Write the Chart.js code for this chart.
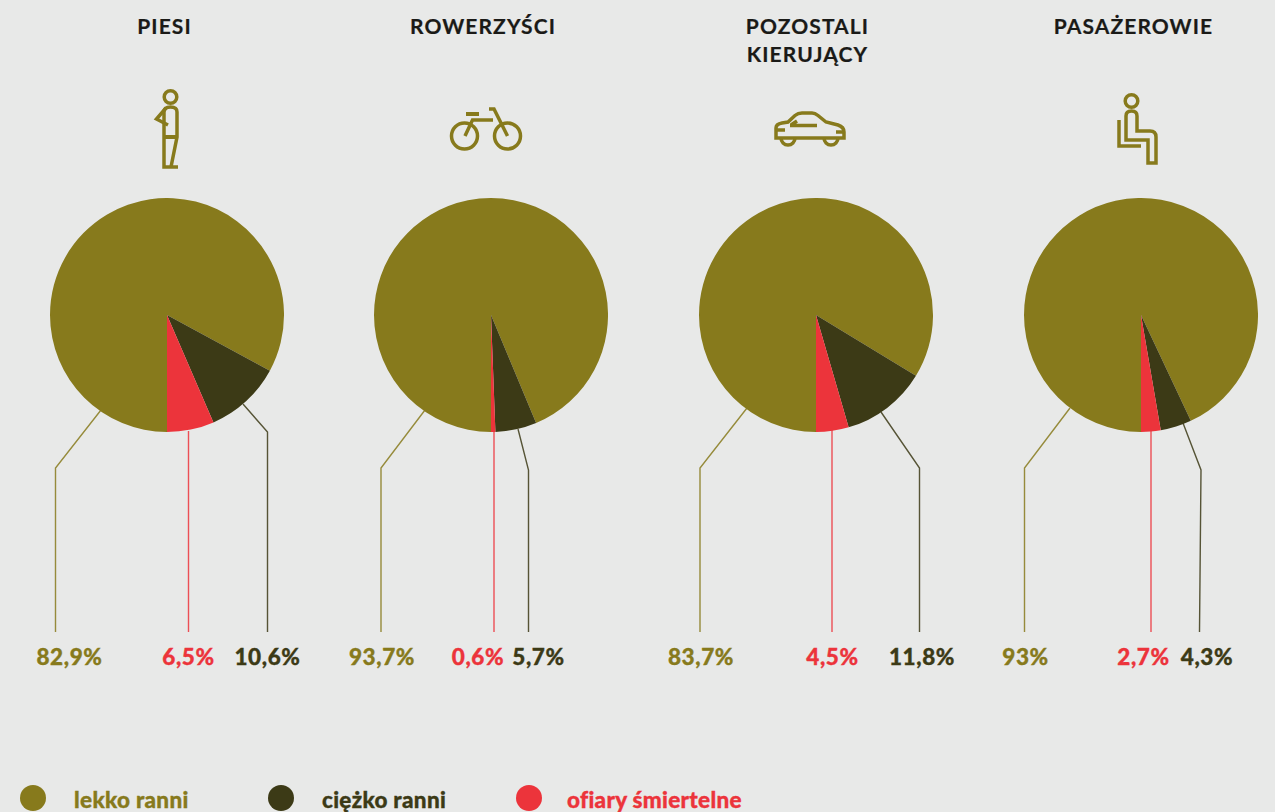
<!DOCTYPE html>
<html lang="pl"><head><meta charset="utf-8">
<script src="https://cdn.jsdelivr.net/npm/chart.js@4/dist/chart.umd.min.js"></script>
<style>
html,body{margin:0;padding:0;width:1275px;height:812px;overflow:hidden;background:#e8e9e8;font-family:Lato,"Noto Sans",sans-serif;}
.t{position:absolute;white-space:nowrap;transform:translateX(-50%);}
.title{font-weight:700;font-size:21px;letter-spacing:1.1px;line-height:28px;color:#1a1a17;text-align:center;top:12px;-webkit-text-stroke:.2px currentColor;}
.val{font-weight:900;font-size:22.5px;letter-spacing:.6px;line-height:26px;top:644px;-webkit-text-stroke:.35px currentColor;}
.leg{font-weight:900;font-size:22.5px;letter-spacing:.3px;line-height:26px;top:787px;transform:none;-webkit-text-stroke:.35px currentColor;}
.dot{position:absolute;width:26px;height:26px;border-radius:50%;top:785px;}
canvas{position:absolute;}
svg{position:absolute;left:0;top:0;}
</style></head><body>
<svg id="ov" width="1275" height="812" fill="none"></svg>
<script>
const categories=["lekko ranni","ciężko ranni","ofiary śmiertelne"];
const groups=["PIESI","ROWERZYŚCI","POZOSTALI\nKIERUJĄCY","PASAŻEROWIE"];
const lekkoRanni=[82.9,93.7,83.7,93];
const ciezkoRanni=[10.6,5.7,11.8,4.3];
const ofiary=[6.5,0.6,4.5,2.7];
const labelLekko=["82,9%","93,7%","83,7%","93%"];
const labelCiezko=["10,6%","5,7%","11,8%","4,3%"];
const labelOfiary=["6,5%","0,6%","4,5%","2,7%"];

const OLIVE="#877a1c",DARK="#3c3a16",RED="#ec343b";
const centersX=[167,491,816,1141],cy=315,R=117;
const titleX=[164.5,483,807.5,1133.5];
const lekkoX=[69.5,382,701,1025.5],ofiaryX=[188.5,478,832.5,1143.5],ciezkoX=[267.5,538.5,922,1207];
const leaders=[
 [[101,410,55.500,468,55.500,632],[188.500,431,188.500,632],[243,404,267.500,432,267.500,632]],
 [[425,410,381,468,381,632],[494,431,494,632],[518,429,528.500,470,528.500,632]],
 [[747,408,700,468,700,632],[832,430,832,632],[881,412,919.500,468,919.500,632]],
 [[1070,408,1024.500,468,1024.500,632],[1151,431,1151,632],[1183,423,1201,470,1199.500,632]]
];
const ov=document.getElementById("ov");
let svg="";
leaders.forEach(g=>{[OLIVE,RED,DARK].forEach((c,i)=>{
 svg+=`<polyline points="${g[i].join(" ")}" stroke="${c}" stroke-width="1.4" opacity=".85"/>`;});});
// icons
const ic=`stroke="${OLIVE}" stroke-width="3.5" fill="none"`;
svg+=`<g ${ic}>
<circle cx="170.500" cy="97" r="6.300"/>
<path d="M164 136V112Q164 107 170.500 107Q177 107 177 112V137L171 167H178M164 136V167H171"/>
<path d="M164 137H177" stroke-width="4"/>
<path d="M166 108L156.500 119L168 125"/>
</g>`;
svg+=`<g ${ic}>
<circle cx="464.500" cy="136" r="13"/><circle cx="507.500" cy="136" r="13"/>
<path d="M465 136L472.500 120H493M489 109H494L507.500 136"/>
<path d="M466 114H479" stroke-width="4"/>
</g>`;
svg+=`<g ${ic}>
<path d="M776 138V128Q776 124 782 123L788 122L795 115.500Q798 113 802 113H812Q815 113 818 115.500L826 122L838 125Q844 127 844 132V138Z"/>
<path d="M781 138A7 7 0 0 0 795 138M824 138A7 7 0 0 0 838 138"/>
<path d="M790 125.500H817M791 125L797 121M776 130H785M836 132H844"/>
</g>`;
svg+=`<g ${ic}>
<circle cx="1131.500" cy="101" r="6.300"/>
<path d="M1126 140V116Q1126 111 1131.500 111Q1137 111 1137 116V131H1150Q1156 131 1156 137V163H1148V140Z"/>
<path d="M1119 120V146H1141"/>
</g>`;
ov.innerHTML=svg;

function addText(cls,txt,x,color){
 const d=document.createElement("div");d.className=cls;d.textContent=txt;
 d.style.left=x+"px";if(color)d.style.color=color;
 document.body.appendChild(d);return d;
}
groups.forEach((g,i)=>{
 const d=addText("t title","",titleX[i]);
 d.innerHTML=g.replace("\n","<br>");
 addText("t val",labelLekko[i],lekkoX[i],OLIVE);
 addText("t val",labelOfiary[i],ofiaryX[i],RED);
 addText("t val",labelCiezko[i],ciezkoX[i],DARK);

 const c=document.createElement("canvas");
 const size=2*R;
 c.style.left=(centersX[i]-R)+"px";c.style.top=(cy-R)+"px";
 c.style.width=size+"px";c.style.height=size+"px";c.width=size;c.height=size;
 document.body.appendChild(c);
 new Chart(c,{type:"pie",data:{labels:categories,datasets:[{
   data:[lekkoRanni[i],ciezkoRanni[i],ofiary[i]],
   backgroundColor:[OLIVE,DARK,RED],borderWidth:0}]},
  options:{responsive:false,animation:false,rotation:180,layout:{padding:0},
   plugins:{legend:{display:false},tooltip:{enabled:false},title:{display:false}}}});
});
const legX=[20,268,516],legT=[74,322,567],legC=[OLIVE,DARK,RED];
categories.forEach((n,i)=>{
 const d=document.createElement("div");d.className="dot";d.style.left=legX[i]+"px";d.style.background=legC[i];
 document.body.appendChild(d);
 addText("t leg",n,legT[i],legC[i]);
});
</script>
</body></html>
